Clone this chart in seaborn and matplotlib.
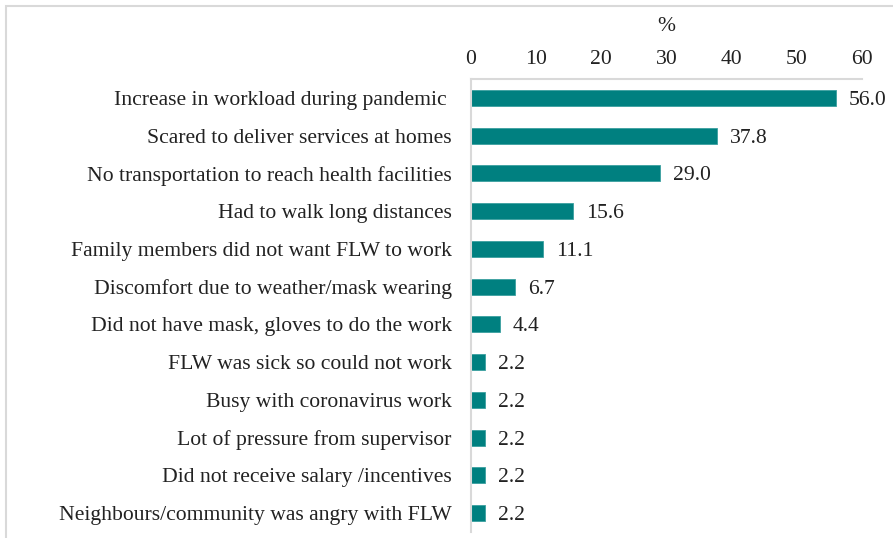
import matplotlib
matplotlib.use("Agg")
import matplotlib.pyplot as plt
import seaborn as sns
import pandas as pd
from matplotlib.patches import Rectangle

categories = [
    "Increase in workload during pandemic ",
    "Scared to deliver services at homes",
    "No transportation to reach health facilities",
    "Had to walk long distances",
    "Family members did not want FLW to work",
    "Discomfort due to weather/mask wearing",
    "Did not have mask, gloves to do the work",
    "FLW was sick so could not work",
    "Busy with coronavirus work",
    "Lot of pressure from supervisor",
    "Did not receive salary /incentives",
    "Neighbours/community was angry with FLW",
]
values = [56.0, 37.8, 29.0, 15.6, 11.1, 6.7, 4.4, 2.2, 2.2, 2.2, 2.2, 2.2]
xticks = [0, 10, 20, 30, 40, 50, 60]

sns.set_theme(style="white")
plt.rcParams["font.family"] = ["Liberation Serif", "DejaVu Serif"]

FS = 15.6
df = pd.DataFrame({"reason": categories, "pct": values})

fig = plt.figure(figsize=(8.93, 5.38), dpi=100)
ax = fig.add_axes([471 / 893, 1 - 532 / 538, (862 - 471) / 893, (532 - 79) / 538])

sns.barplot(data=df, y="reason", x="pct", orient="h", color="#008080",
            saturation=1, width=0.42, edgecolor="#3a9f9f", linewidth=0.6, ax=ax)

for i, v in enumerate(values):
    ax.text(v + 2.0, i, f"{v:.1f}", va="center_baseline", ha="left", fontsize=FS, color="#222222")

ax.set_xlim(0, 60)
ax.set_ylim(11.5, -0.5)
ax.set_xticks(xticks)
ax.xaxis.tick_top()
ax.xaxis.set_label_position("top")
ax.set_xlabel("%", fontsize=FS, labelpad=14, color="#222222")
ax.set_ylabel("")
ax.tick_params(axis="x", length=0, pad=7, labelsize=FS, labelcolor="#222222")
ax.tick_params(axis="y", length=0, pad=14, labelsize=FS, labelcolor="#222222")
for lab in ax.get_yticklabels():
    lab.set_verticalalignment("center_baseline")
for side in ["right", "bottom"]:
    ax.spines[side].set_visible(False)
for side in ["left", "top"]:
    ax.spines[side].set_visible(True)
    ax.spines[side].set_color("#d9d9d9")
    ax.spines[side].set_linewidth(1.5)

fig.patches.append(Rectangle((6 / 893, -0.05), 1.1, 1 - 6 / 538 + 0.05,
                             transform=fig.transFigure, fill=False,
                             edgecolor="#d9d9d9", linewidth=1.5))

fig.savefig("out.png", dpi=100)
